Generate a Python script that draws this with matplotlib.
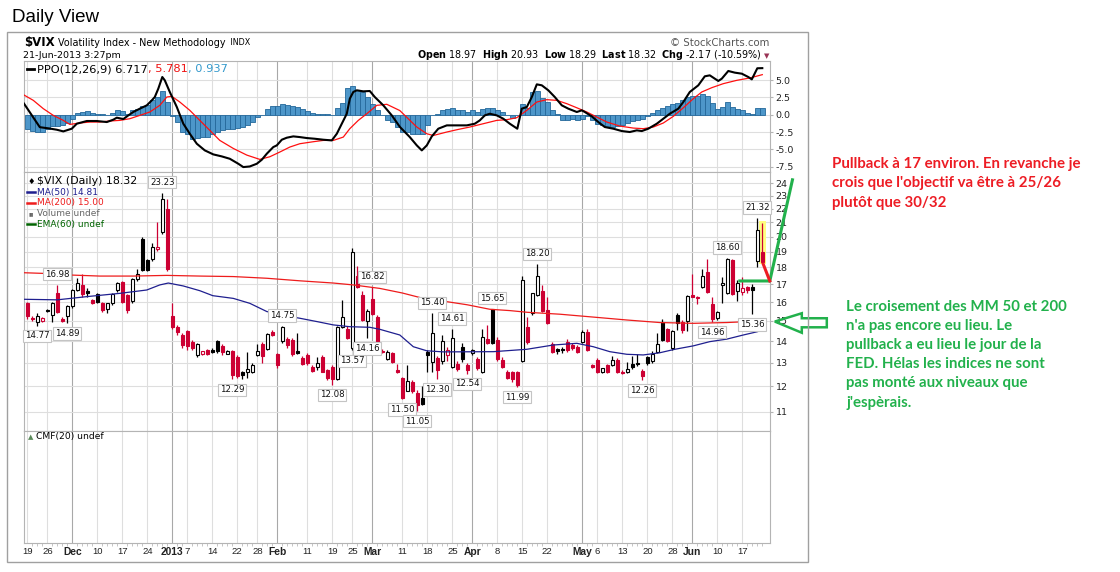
import numpy as np
import pandas as pd
import matplotlib
matplotlib.use("Agg")
import matplotlib.pyplot as plt
from matplotlib.patches import Rectangle, Polygon
from matplotlib.ticker import NullLocator, FixedLocator
from matplotlib import font_manager as fm

# ---------------------------------------------------------------- data
holidays = ["2012-11-22", "2012-12-25", "2013-01-01", "2013-01-21",
            "2013-02-18", "2013-03-29", "2013-05-27"]
first_day, last_day = "2012-11-19", "2013-06-21"

opens = [15.93, 15.16, 14.97, 15.02, 15.58, 15.30, 16.48, 15.12, 15.26, 15.80,
         16.65, 16.96, 16.60, 16.10, 16.45, 15.95, 15.60, 15.93, 16.65, 17.15,
         16.40, 16.05, 17.30, 19.80, 18.46, 18.50, 19.15, 20.30, 22.00, 15.26,
         14.71, 14.30, 14.50, 13.98, 13.35, 13.42, 13.58, 13.60, 14.00, 13.78,
         13.42, 13.55, 13.28, 12.62, 12.62, 12.62, 13.36, 13.88, 13.65, 14.46,
         13.40, 14.00, 14.12, 14.06, 13.52, 13.21, 13.36, 12.84, 12.84, 13.28,
         12.70, 12.84, 12.30, 14.71, 14.60, 13.67, 17.48, 16.40, 15.00, 16.15,
         15.20, 13.55, 13.18, 13.45, 12.70, 12.34, 11.83, 12.20, 11.73, 11.53,
         13.51, 13.03, 13.21, 13.10, 13.36, 12.84, 12.96, 13.74, 12.91, 13.44,
         13.16, 12.62, 14.11, 15.61, 14.06, 13.13, 12.62, 12.60, 12.62, 13.10,
         14.71, 15.40, 16.40, 16.60, 15.55, 13.85, 13.62, 13.64, 13.98, 13.82,
         13.74, 13.98, 14.46, 12.91, 13.13, 12.62, 12.91, 12.91, 13.13, 12.62,
         12.60, 12.95, 13.00, 12.66, 13.25, 13.10, 13.50, 14.95, 14.58, 13.70,
         15.30, 14.95, 15.00, 16.39, 16.20, 16.86, 17.74, 15.90, 15.15, 16.95,
         16.50, 18.45, 16.60, 16.55, 16.85, 16.85, 18.40, 18.97]
highs = [16.00, 15.26, 15.40, 15.20, 15.62, 16.00, 16.98, 15.18, 15.86, 16.72,
         17.35, 17.60, 16.80, 16.15, 16.50, 16.00, 15.96, 16.50, 17.15, 17.20,
         16.45, 17.35, 17.90, 19.95, 18.55, 19.55, 20.99, 23.23, 22.70, 15.93,
         14.80, 14.40, 14.55, 14.05, 13.92, 13.55, 13.65, 13.70, 14.05, 13.85,
         13.60, 13.60, 13.35, 12.66, 13.50, 13.00, 13.88, 13.95, 14.40, 14.55,
         13.45, 14.75, 14.20, 14.15, 14.40, 13.30, 13.45, 12.90, 13.28, 13.35,
         12.75, 12.90, 14.75, 16.10, 14.75, 19.25, 18.10, 16.60, 15.60, 16.82,
         15.30, 13.65, 13.60, 13.50, 12.95, 12.40, 12.90, 12.28, 11.85, 12.00,
         13.60, 15.40, 13.30, 14.30, 13.75, 14.61, 13.10, 13.90, 13.00, 13.65,
         13.25, 14.60, 14.80, 15.65, 14.20, 13.25, 12.70, 12.65, 12.65, 17.50,
         15.20, 16.50, 18.20, 16.95, 16.30, 13.95, 13.70, 13.72, 14.10, 13.90,
         13.80, 14.55, 14.60, 12.95, 13.20, 12.80, 12.95, 13.30, 13.20, 12.68,
         13.05, 13.30, 13.40, 12.75, 13.30, 13.55, 14.40, 15.10, 14.65, 14.55,
         15.40, 15.05, 16.40, 17.60, 16.35, 17.90, 18.50, 16.30, 15.50, 17.40,
         18.60, 18.55, 17.25, 17.45, 16.90, 17.00, 21.32, 20.93]
lows = [15.10, 15.00, 14.77, 14.95, 15.48, 14.97, 15.40, 14.95, 14.89, 15.70,
        16.60, 16.30, 16.30, 15.88, 15.95, 15.48, 15.40, 15.85, 16.55, 15.95,
        15.40, 15.95, 17.20, 17.80, 17.80, 18.40, 19.05, 20.20, 17.80, 14.60,
        14.30, 13.70, 13.60, 13.58, 13.28, 13.35, 13.38, 13.45, 13.45, 13.36,
        13.40, 12.29, 12.35, 12.32, 12.35, 12.58, 13.30, 13.00, 13.60, 14.25,
        12.80, 13.90, 13.70, 13.30, 13.40, 12.90, 12.92, 12.62, 12.70, 12.60,
        12.25, 12.08, 12.25, 14.65, 14.10, 13.57, 16.80, 15.00, 14.16, 15.30,
        13.90, 13.45, 13.15, 13.00, 12.55, 11.50, 11.80, 11.75, 11.05, 11.25,
        12.62, 12.62, 12.30, 12.95, 13.10, 12.80, 12.65, 13.05, 12.54, 13.35,
        12.70, 12.55, 13.85, 13.85, 13.10, 12.78, 12.30, 12.20, 11.99, 13.05,
        13.85, 15.30, 16.35, 15.45, 14.85, 13.45, 13.40, 13.45, 13.50, 13.60,
        13.45, 13.90, 13.55, 12.78, 12.55, 12.55, 12.55, 12.85, 12.55, 12.50,
        12.55, 12.75, 12.85, 12.26, 12.90, 13.00, 13.45, 14.00, 13.95, 13.60,
        14.55, 14.40, 14.50, 16.25, 15.90, 16.80, 16.50, 14.96, 15.05, 15.95,
        16.45, 16.40, 16.05, 16.40, 16.50, 15.36, 18.00, 18.29]
closes = [15.26, 15.12, 15.26, 15.14, 15.52, 15.93, 15.49, 15.00, 15.80, 16.65,
          17.09, 16.42, 16.50, 15.93, 16.02, 15.55, 15.93, 16.45, 17.05, 16.00,
          15.55, 17.29, 17.62, 17.85, 17.87, 19.30, 19.28, 22.70, 17.90, 14.68,
          14.46, 13.82, 13.76, 13.70, 13.85, 13.52, 13.42, 13.50, 13.52, 13.48,
          13.55, 12.48, 12.42, 12.46, 12.72, 12.91, 13.55, 13.30, 14.35, 14.30,
          12.90, 14.71, 13.80, 13.40, 13.46, 12.96, 12.99, 12.66, 12.99, 12.62,
          12.34, 12.30, 14.71, 15.20, 14.14, 19.00, 16.85, 15.05, 15.52, 15.36,
          13.95, 13.50, 13.51, 13.06, 12.62, 11.53, 12.23, 11.83, 11.25, 11.30,
          13.36, 14.38, 12.70, 14.00, 13.59, 14.14, 12.73, 13.16, 12.70, 13.59,
          12.77, 14.19, 13.90, 13.92, 13.16, 12.82, 12.34, 12.30, 12.06, 17.27,
          13.96, 16.48, 17.48, 15.50, 14.92, 13.51, 13.56, 13.60, 13.58, 13.67,
          13.51, 14.46, 13.59, 12.84, 12.62, 12.77, 12.62, 13.13, 12.60, 12.55,
          12.74, 12.82, 12.96, 12.45, 13.00, 13.40, 13.85, 14.06, 14.02, 14.50,
          14.90, 14.55, 16.35, 16.30, 16.28, 17.48, 16.58, 15.10, 15.45, 17.05,
          18.55, 16.45, 17.10, 16.80, 16.65, 16.68, 20.45, 18.32]
# 'r' = close below previous close (red), 'k' = close above (black)
candle_colors = ("rrkrkkrrkk" "krkrkrkkkr" "rkkkkkrkrr" "rrrrkrrkkr" "krrkkkkrkr"
                 "rkrrkrrrkr" "rrkkrkrrkr" "rrkrrrkrrk" "kkrkrkrkrk" "rkrkrrrrrk"
                 "rkkrrrkkrr" "rkrrrkrkrr" "kkkrkkkkrk" "krkrrkrrkk" "krkrrkkr")

# Moving averages (day index, value)
ma50_day = [-0.66, 6, 12, 18.5, 23.9, 26.5, 28.2, 31.2, 34.5, 37.1, 41.2, 44.5,
            47.9, 51.2, 54.5, 57.9, 61.2, 64.5, 68.5, 70.5, 74.5, 77.2, 79.9,
            83.2, 93.2, 99.9, 105.2, 109.9, 113.2, 116.5, 119.9, 123.2, 126.5,
            129.5, 133.2, 136.5, 139.9, 143.2, 146.0, 147]
ma50_val = [16.15, 16.12, 16.30, 16.48, 16.67, 16.96, 17.07, 16.90, 16.63, 16.35,
            16.20, 15.93, 15.49, 15.29, 15.14, 14.97, 14.80, 14.71, 14.68, 14.58,
            14.30, 13.74, 13.55, 13.50, 13.51, 13.62, 13.82, 13.90, 13.74, 13.51,
            13.39, 13.36, 13.46, 13.62, 13.78, 13.98, 14.10, 14.30, 14.46, 14.55]
ma200_day = [-0.66, 3.2, 7.9, 14.5, 21.2, 27.9, 34.5, 41.2, 47.9, 54.5, 61.2,
             65.2, 70.5, 75, 79.9, 83.9, 88, 92.5, 96.5, 100, 106.5, 113.2,
             119.9, 126.5, 133.2, 139.9, 147]
ma200_val = [17.68, 17.64, 17.55, 17.48, 17.48, 17.52, 17.48, 17.45, 17.35, 17.20,
             17.07, 16.96, 16.76, 16.50, 16.15, 16.02, 15.85, 15.61, 15.54, 15.45,
             15.35, 15.20, 15.05, 14.92, 14.88, 14.92, 15.00]

# PPO(12,26,9): histogram per day, PPO and signal lines read as (day, value)
ppo_hist = [-2.02, -2.41, -2.50, -2.50, -2.02, -1.69, -1.69, -1.54, -1.20, -0.58,
            0.24, 0.39, 0.48, 0.24, 0.14, 0.10, -0.05, 0.24, 0.63, 0.48,
            0.14, 0.72, 0.87, 1.20, 1.35, 2.07, 2.55, 3.37, 1.80, -0.20,
            -1.06, -2.50, -2.75, -3.47, -3.30, -3.20, -3.20, -2.75, -2.50, -2.26,
            -2.02, -2.02, -1.90, -1.78, -1.54, -1.06, -0.34, -0.05, 0.87, 1.20,
            1.20, 1.59, 1.45, 1.20, 1.10, 0.87, 0.48, 0.24, 0.14, 0.14,
            0.05, -0.10, 0.96, 1.73, 3.90, 4.10, 3.50, 3.30, 2.55, 1.59,
            0.63, -0.10, -0.82, -1.06, -1.78, -2.50, -2.50, -2.75, -2.75, -2.75,
            -1.54, -0.10, 0.15, 0.63, 0.87, 1.00, 0.63, 0.63, 0.39, 0.63,
            0.39, 0.87, 1.00, 1.00, 0.63, 0.39, -0.05, -0.43, -0.10, 1.50,
            1.00, 3.30, 3.40, 2.45, 1.83, 0.63, 0.05, -0.72, -0.82, -0.58,
            -0.82, -0.58, -0.24, -0.72, -1.30, -1.54, -1.69, -1.78, -1.69, -1.54,
            -1.20, -0.92, -0.72, -0.58, -0.24, 0.24, 0.63, 1.00, 1.20, 1.50,
            1.70, 2.07, 2.55, 2.65, 2.65, 2.94, 2.65, 1.70, 0.87, 1.10,
            1.83, 1.10, 0.87, 0.63, 0.24, 0.05, 1.00, 0.94]
ppo_day = [-0.66, 2.5, 4.5, 5.9, 7.2, 8.9, 9.9, 11.9, 13.9, 15.9, 17.2, 17.9, 19.2,
           20.2, 21.2, 22.5, 23.9, 24.9, 25.5, 26.2, 27.0, 27.5, 28.5, 29.9, 31.2,
           32.5, 33.9, 35.5, 37.2, 38.9, 40.5, 42.2, 43.2, 44.5, 45.9, 46.9, 47.9,
           49.2, 49.9, 50.9, 51.9, 53.2, 54.5, 55.9, 57.5, 59.2, 60.9, 61.9, 62.9,
           63.9, 64.5, 65.2, 65.9, 67.2, 68.5, 69.5, 71.2, 72.9, 74.5, 76.5, 77.9,
           78.9, 79.9, 80.9, 82.2, 83.9, 85.9, 87.9, 89.5, 90.5, 91.5, 92.5, 93.9,
           95.2, 96.5, 98.0, 98.9, 99.9, 100.9, 101.9, 102.9, 104.2, 105.5, 106.9,
           108.2, 109.9, 110.9, 111.5, 112.9, 114.2, 115.5, 117.2, 118.9, 120.5,
           121.9, 122.9, 124.2, 125.9, 127.2, 128.5, 130.2, 131.2, 132.5, 134.2,
           135.5, 136.5, 137.5, 138.2, 138.9, 140.2, 141.5, 142.9, 144.2, 144.9,
           146.0, 147.0]
ppo_val = [1.60, -1.80, -2.00, -2.17, -2.41, -2.02, -1.30, -0.91, -0.91, -1.06,
           -0.72, -0.43, -0.63, -0.10, 0.39, 0.87, 1.35, 2.07, 2.55, 3.76, 5.44,
           4.96, 3.28, 1.11, -1.30, -2.75, -4.19, -5.15, -5.73, -6.02, -6.36,
           -7.08, -7.56, -7.47, -7.08, -6.50, -5.63, -4.67, -4.43, -3.61, -3.32,
           -3.13, -3.23, -3.37, -3.47, -3.61, -3.71, -2.75, -1.30, 0.14, 2.31,
           3.28, 3.52, 3.37, 3.42, 2.55, 1.35, -0.10, -1.75, -3.23, -4.43, -5.15,
           -4.43, -3.13, -2.02, -1.54, -1.54, -1.54, -1.30, -0.82, -0.10, 0.14,
           -0.10, -0.58, -1.30, -2.02, 0.87, 1.11, 2.55, 4.38, 4.24, 3.52, 2.55,
           1.35, 0.87, 0.39, 0.63, 0.39, -0.24, -1.06, -1.78, -2.02, -2.36, -2.50,
           -2.26, -2.36, -2.02, -1.30, -0.58, 0.14, 0.87, 1.83, 3.28, 4.24, 5.54,
           5.68, 5.20, 4.87, 5.20, 6.31, 6.07, 5.92, 5.44, 5.10, 6.70, 6.72]
sig_day = [-0.66, 1.2, 3.2, 5.2, 7.2, 8.5, 10.5, 12.5, 14.5, 16.5, 18.5, 20.5,
           22.5, 24.5, 26.5, 27.9, 28.9, 30.5, 32.5, 34.5, 36.5, 38.5, 41.2, 43.9,
           46.5, 48.5, 50.5, 52.5, 54.5, 57.2, 59.2, 61.2, 63.2, 64.5, 66.2, 67.9,
           69.9, 71.9, 74.5, 77.9, 79.9, 81.2, 83.9, 85.9, 88.5, 91.2, 93.9, 95.9,
           97.9, 99.9, 101.9, 103.9, 105.9, 107.9, 109.9, 111.9, 113.9, 115.9,
           118.5, 121.2, 123.2, 125.2, 127.2, 129.2, 131.2, 133.2, 134.9, 136.9,
           139.2, 141.9, 144.5, 147.0]
sig_val = [2.84, 2.07, 0.87, -0.10, -0.82, -1.40, -1.20, -1.06, -1.06, -0.91,
           -0.82, -0.58, -0.10, 0.39, 1.35, 2.55, 2.65, 1.83, 0.63, -0.82, -2.26,
           -3.71, -4.87, -5.83, -6.45, -6.07, -5.39, -4.67, -4.19, -3.90, -3.71,
           -3.71, -3.23, -2.02, -0.82, 0.14, 1.35, 1.50, 0.60, -1.78, -2.75,
           -3.00, -2.50, -2.17, -1.78, -1.30, -0.82, -0.72, -0.43, 0.63, 1.83,
           2.17, 2.07, 1.59, 1.00, 0.39, -0.34, -1.06, -1.64, -1.93, -2.02,
           -1.78, -1.20, -0.24, 1.00, 2.31, 3.28, 3.90, 4.48, 4.96, 5.30, 5.78]

# High / low value flags shown on the price chart (day index, 'H' or 'L')
flag_days = [2, 6, 8, 27, 41, 51, 61, 65, 68, 69, 75, 78, 81, 82, 85, 88, 93,
             98, 102, 123, 137, 140, 145, 146]
flag_kind = ["L", "H", "L", "H", "L", "H", "L", "L", "L", "H", "L", "L", "H",
             "L", "H", "L", "H", "L", "H", "L", "L", "H", "L", "H"]

tick_dates = ["2012-11-19", "2012-11-26", "2012-12-03", "2012-12-10", "2012-12-17",
              "2012-12-24", "2013-01-02", "2013-01-07", "2013-01-14", "2013-01-22",
              "2013-01-28", "2013-02-01", "2013-02-11", "2013-02-19", "2013-02-25",
              "2013-03-01", "2013-03-11", "2013-03-18", "2013-03-25", "2013-04-01",
              "2013-04-08", "2013-04-15", "2013-04-22", "2013-05-01", "2013-05-06",
              "2013-05-13", "2013-05-20", "2013-05-28", "2013-06-03", "2013-06-10",
              "2013-06-17"]
tick_labels = ["19", "26", "Dec", "10", "17", "24", "2013", "7", "14", "22", "28",
               "Feb", "11", "19", "25", "Mar", "11", "18", "25", "Apr", "8", "15",
               "22", "May", "6", "13", "20", "28", "Jun", "10", "17"]
month_labels = {"Dec", "2013", "Feb", "Mar", "Apr", "May", "Jun"}

price_ticks = list(range(11, 25))
ppo_ticks = [5.0, 2.5, 0.0, -2.5, -5.0, -7.5]

# hand-drawn annotation (in chart coordinates: day index, price)
green_path_day = [142.2, 148.5, 153.1]
green_path_val = [17.19, 17.19, 24.39]
red_path_day = [147.2, 148.5]
red_path_val = [18.20, 17.19]
arrow_day = [149.5, 154.9, 154.9, 159.9, 159.9, 154.9, 154.9]
arrow_val = [14.97, 15.40, 15.14, 15.14, 14.68, 14.68, 14.41]

note_red = ["Pullback à 17 environ. En revanche je",
            "crois que l'objectif va être à 25/26",
            "plutôt que 30/32"]
note_green = ["Le croisement des MM 50 et 200",
              "n'a pas encore eu lieu. Le",
              "pullback a eu lieu le jour de la",
              "FED. Hélas les indices ne sont",
              "pas monté aux niveaux que",
              "j'espèrais."]

# ---------------------------------------------------------------- setup
W, H = 1120, 572
fig = plt.figure(figsize=(W / 100, H / 100), dpi=100)
fig.patch.set_facecolor("white")

avail = {f.name for f in fm.fontManager.ttflist}
def pick(*names):
    for nm in names:
        if nm in avail:
            return nm
    return "DejaVu Sans"
SANS = "DejaVu Sans"
ARIAL = pick("Liberation Sans", "DejaVu Sans")
NARROW = pick("Liberation Sans Narrow", "Liberation Sans", "DejaVu Sans")
NOTE = pick("Lato", "Open Sans", "DejaVu Sans")

def fx(px):
    return px / W
def fy(py):
    return 1 - py / H

dates = pd.bdate_range(first_day, last_day)
dates = dates[~dates.isin(pd.to_datetime(holidays))]
n = len(dates)
xs = np.arange(n)
tick_pos = [dates.get_loc(pd.Timestamp(d)) for d in tick_dates]

CANDLE_RED = "#cc0033"
GRID_LIGHT = "#dedede"
GRID_DARK = "#a8a8a8"
SPINE = "#b4b4b4"
XMIN, XMAX = -0.66, 148.54

L, R = 24, 770
ax_ppo = fig.add_axes([fx(L), fy(172), (R - L) / W, (172 - 61) / H])
ax = fig.add_axes([fx(L), fy(431), (R - L) / W, (431 - 172) / H])
ax_cmf = fig.add_axes([fx(L), fy(543), (R - L) / W, (543 - 431) / H])

for a in (ax_ppo, ax, ax_cmf):
    a.set_xlim(XMIN, XMAX)
    for s in a.spines.values():
        s.set_color(SPINE)
        s.set_linewidth(0.8)
    for p, lab in zip(tick_pos, tick_labels):
        a.axvline(p, color=GRID_DARK if lab in month_labels else GRID_LIGHT,
                  lw=0.8, zorder=0)
    a.set_xticks([])

# ---------------------------------------------------------------- PPO panel
ax_ppo.set_ylim(-8.27, 7.75)
for v in ppo_ticks:
    ax_ppo.axhline(v, color=GRID_LIGHT, lw=0.8, zorder=0)
ax_ppo.bar(xs, ppo_hist, width=1.0, color="#4d96c9", edgecolor="#23679a",
           linewidth=0.6, zorder=2)
ax_ppo.plot(sig_day, sig_val, color="#ff1010", lw=0.9, zorder=3)
ax_ppo.plot(ppo_day, ppo_val, color="black", lw=1.5, zorder=4)
ax_ppo.yaxis.tick_right()
ax_ppo.set_yticks(ppo_ticks)
ax_ppo.set_yticklabels([f"{v:.1f}" for v in ppo_ticks])
ax_ppo.tick_params(axis="y", length=2, pad=2, labelsize=6.8, colors="#222222",
                   color=SPINE)

# ---------------------------------------------------------------- price panel
ax.set_yscale("log")
ax.set_ylim(10.31, 24.92)
ax.yaxis.set_minor_locator(NullLocator())
ax.yaxis.tick_right()
ax.set_yticks(price_ticks)
ax.set_yticklabels([str(v) for v in price_ticks])
ax.tick_params(axis="y", length=2, pad=2, labelsize=6.8, colors="#222222",
               color=SPINE)
for v in price_ticks:
    ax.axhline(v, color=GRID_LIGHT, lw=0.8, zorder=0)

# yellow highlight behind the last session
ax.add_patch(Rectangle((n - 1 - 0.75, lows[-1] * 0.995), 1.4,
                       highs[-1] * 1.006 - lows[-1] * 0.995,
                       facecolor="#ffff80", edgecolor="none", zorder=1))

for i in range(n):
    c = CANDLE_RED if candle_colors[i] == "r" else "black"
    o, h, l, cl = opens[i], highs[i], lows[i], closes[i]
    ax.vlines(i, l, h, color=c, lw=0.9, zorder=3)
    lo, hi = min(o, cl), max(o, cl)
    face = c if cl < o else "white"
    ax.add_patch(Rectangle((i - 0.34, lo), 0.68, max(hi - lo, 0.01),
                           facecolor=face, edgecolor=c, lw=0.8, zorder=4))

ax.plot(ma200_day, ma200_val, color="#ee1c1c", lw=0.9, zorder=5)
ax.plot(ma50_day, ma50_val, color="#1f1f8f", lw=0.9, zorder=5)

for d, k in zip(flag_days, flag_kind):
    v = highs[d] if k == "H" else lows[d]
    ax.annotate(f"{v:.2f}", xy=(d, v), xytext=(0, 7.5 if k == "H" else -7.5),
                textcoords="offset points", ha="center", va="center",
                fontsize=6.2, family=SANS, color="#111111", zorder=7,
                bbox=dict(boxstyle="square,pad=0.2", fc="white", ec="#c4c4c4",
                          lw=0.8))

# hand drawn marks
ax.plot(green_path_day, green_path_val, color="#22b14c", lw=2.2,
        clip_on=False, zorder=9, solid_capstyle="butt")
ax.plot(red_path_day, red_path_val, color="#ed1c24", lw=2.2,
        clip_on=False, zorder=9)
ax.add_patch(Polygon(list(zip(arrow_day, arrow_val)), closed=True, fill=False,
                     edgecolor="#22b14c", lw=1.8, clip_on=False, zorder=9))

# ---------------------------------------------------------------- CMF panel
ax_cmf.set_ylim(0, 1)
ax_cmf.set_yticks([])
ax_cmf.set_xticks(tick_pos)
ax_cmf.set_xticklabels(tick_labels)
ax_cmf.xaxis.set_minor_locator(FixedLocator(list(xs)))
ax_cmf.tick_params(axis="x", which="major", length=0, pad=3, labelsize=6.8,
                   colors="#222222")
ax_cmf.tick_params(axis="x", which="minor", length=2, color="#bbbbbb")
for t in ax_cmf.get_xticklabels():
    t.set_family(NARROW)
    if t.get_text() in month_labels:
        t.set_fontweight("bold")
        t.set_fontsize(7.4)

# ---------------------------------------------------------------- texts
fig.text(fx(12), fy(18), "Daily View", family=ARIAL, fontsize=13.5,
         va="center", ha="left", color="black")
fig.add_artist(Rectangle((fx(7), fy(562)), fx(807.5) - fx(7), fy(32) - fy(562),
                         transform=fig.transFigure, fill=False,
                         edgecolor="#a0a0a0", lw=1.0))

r = fig.canvas.get_renderer()

def seq(x, y, parts, **kw):
    for s, col, extra in parts:
        kk = dict(kw)
        kk.update(extra)
        t = fig.text(fx(x), fy(y), s, color=col, ha="left", va="center",
                     parse_math=False, **kk)
        x += t.get_window_extent(renderer=r).width
    return x

seq(24, 42.5, [("$VIX", "black", dict(fontsize=8.5, fontweight="bold")),
               (" Volatility Index - New Methodology ", "black", dict(fontsize=6.9)),
               (" INDX", "black", dict(fontsize=5.8))], family=SANS)
fig.text(fx(23), fy(55.5), "21-Jun-2013 3:27pm", family=SANS, fontsize=6.8,
         va="center", ha="left")
fig.text(fx(769), fy(42.5), "© StockCharts.com", family=SANS, fontsize=7.3,
         va="center", ha="right", color="#555555")
fig.text(fx(762), fy(55.5),
         r"$\mathbf{Open}$ 18.97  $\mathbf{High}$ 20.93  $\mathbf{Low}$ 18.29  "
         r"$\mathbf{Last}$ 18.32  $\mathbf{Chg}$ -2.17 (-10.59%)",
         family=SANS, fontsize=6.95, va="center", ha="right")
fig.text(fx(767), fy(56), "▼", family=SANS, fontsize=5, color="#993355",
         va="center", ha="center")

# PPO legend
fig.add_artist(plt.Line2D([fx(27), fx(34)], [fy(69), fy(69)], color="black",
                          lw=2, transform=fig.transFigure))
seq(37, 69, [("PPO(12,26,9) 6.717", "black", {}), (", 5.781", "#ee1111", {}),
             (", 0.937", "#3399cc", {})], family=SANS, fontsize=8.2)

# price legend
leg = [("$VIX (Daily) 18.32", "black", 181.5, 7.9),
       ("MA(50) 14.81", "#1f1f8f", 192.3, 6.5),
       ("MA(200) 15.00", "#ee1c1c", 203, 6.5),
       ("Volume undef", "#666666", 213.5, 6.5),
       ("EMA(60) undef", "#006400", 224, 6.5)]
for s, col, y, fs in leg:
    fig.text(fx(37), fy(y), s, color=col, family=SANS, fontsize=fs,
             va="center", ha="left", parse_math=False)
for col, y in [("#1f1f8f", 192.3), ("#ee1c1c", 203), ("#006400", 224)]:
    fig.add_artist(plt.Line2D([fx(27), fx(35)], [fy(y), fy(y)], color=col,
                              lw=1.8, transform=fig.transFigure))
fig.text(fx(31), fy(181.5), "♦", family=SANS, fontsize=6, color="black",
         va="center", ha="center")
fig.text(fx(31), fy(213.5), "▮▮", family=SANS, fontsize=3.5, color="#666666",
         va="center", ha="center")

# CMF legend
fig.text(fx(31), fy(437), "▲", family=SANS, fontsize=5, color="#5a8a5a",
         va="center", ha="center")
fig.text(fx(36), fy(437), "CMF(20) undef", family=SANS, fontsize=6.6,
         va="center", ha="left")

# notes
for k, s in enumerate(note_red):
    fig.text(fx(832), fy(164 + 19.3 * k), s, family=NOTE, fontweight="bold",
             fontsize=10.8, color="#ed1c24", va="center", ha="left")
for k, s in enumerate(note_green):
    fig.text(fx(846), fy(306.7 + 19.2 * k), s, family=NOTE, fontweight="bold",
             fontsize=10.8, color="#22b14c", va="center", ha="left")

fig.savefig("out.png", dpi=100, facecolor="white")
